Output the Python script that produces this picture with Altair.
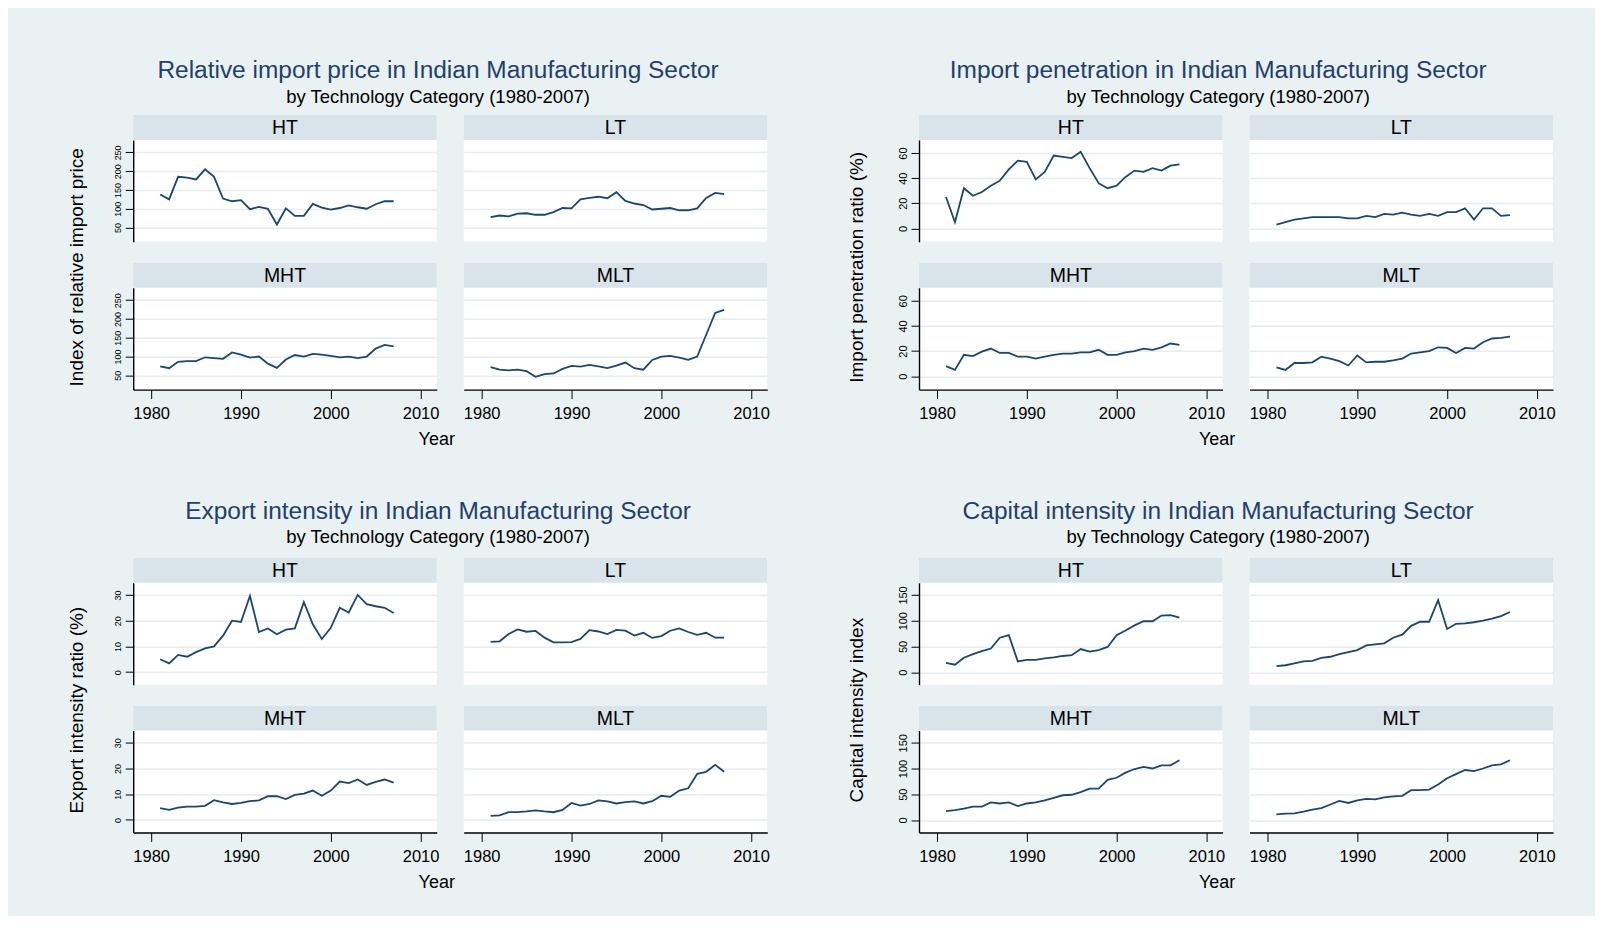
import altair as alt
import pandas as pd

YEARS = list(range(1981, 2008))
CATEGORIES = ["HT", "LT", "MHT", "MLT"]

# Relative import price index
REL_PRICE_HT = [138, 125, 185, 183, 178, 205, 185, 127, 120, 123, 99, 105, 100, 58, 101, 81, 81, 113, 103, 98, 102, 109, 104, 100, 112, 120, 120]
REL_PRICE_LT = [78, 82, 80, 87, 88, 84, 84, 91, 102, 101, 125, 129, 132, 128, 144, 121, 114, 110, 98, 100, 102, 96, 96, 101, 129, 142, 139]
REL_PRICE_MHT = [74, 69, 86, 88, 88, 98, 96, 94, 111, 105, 97, 100, 81, 70, 92, 104, 100, 107, 105, 102, 98, 100, 96, 100, 121, 131, 127]
REL_PRICE_MLT = [72, 65, 63, 65, 61, 46, 53, 55, 67, 75, 73, 78, 74, 69, 76, 84, 69, 65, 91, 100, 102, 97, 91, 100, 158, 216, 224]

# Import penetration ratio (%)
IMP_PEN_HT = [25, 5, 32, 26, 29, 34, 38, 47, 54, 53, 39, 45, 58, 57, 56, 61, 48, 36, 32, 34, 41, 46, 45, 48, 46, 50, 51]
IMP_PEN_LT = [3, 5, 7, 8, 9, 9, 9, 9, 8, 8, 10, 9, 11.5, 11, 12.5, 11, 10, 11.5, 10, 13, 13, 16, 7, 16, 16, 10, 10.5]
IMP_PEN_MHT = [8, 5, 17, 16, 19.5, 22, 18.5, 18.5, 15.5, 15.5, 14, 15.5, 17, 18, 18, 19, 19, 21, 17, 17, 19, 20, 22, 21, 23, 26, 25]
IMP_PEN_MLT = [7, 5, 10.5, 10.5, 11, 15.5, 14, 12, 8.5, 16.5, 11, 11.5, 11.5, 12.5, 14, 18, 19, 20, 23, 22.5, 18.5, 22.5, 22, 27, 30, 30.5, 31.5]

# Export intensity ratio (%)
EXP_INT_HT = [5, 3.4, 6.7, 6, 7.8, 9.2, 10, 14.2, 20, 19.5, 29.6, 15.6, 17, 14.7, 16.5, 17, 27.2, 18.6, 12.9, 17.2, 25, 23.2, 30, 26.4, 25.6, 25, 23]
EXP_INT_LT = [11.8, 12, 14.8, 16.6, 15.7, 16, 13.4, 11.6, 11.6, 11.7, 12.9, 16.3, 15.8, 14.8, 16.4, 16.1, 14.2, 15.3, 13.3, 14, 16.1, 17, 15.6, 14.5, 15.3, 13.4, 13.4]
EXP_INT_MHT = [4.6, 3.9, 4.8, 5.2, 5.2, 5.5, 7.7, 6.8, 6.2, 6.6, 7.3, 7.6, 9.2, 9.2, 8.1, 9.7, 10.2, 11.4, 9.4, 11.4, 14.9, 14.3, 15.7, 13.6, 14.8, 15.7, 14.5]
EXP_INT_MLT = [1.6, 1.8, 3, 3, 3.3, 3.7, 3.3, 3, 3.9, 6.6, 5.6, 6.2, 7.6, 7.2, 6.4, 6.9, 7.2, 6.4, 7.3, 9.4, 9, 11.4, 12.3, 17.9, 18.7, 21.4, 18.7]

# Capital intensity index
CAP_INT_HT = [18, 14.5, 28, 35, 41, 46, 67, 72, 21, 24, 24, 27, 29, 31.5, 33, 45, 40, 43, 49, 72, 81, 91, 99, 99, 110, 111, 106]
CAP_INT_LT = [12, 13.5, 17, 21, 22, 28, 30, 35, 39, 43, 52, 54, 56, 67, 73, 90, 98, 98, 140, 84, 94, 95, 97, 100, 104, 109, 117]
CAP_INT_MHT = [17, 19, 22, 26, 26, 34, 32, 34, 27, 32, 34, 38, 43, 48, 49, 54, 61, 61, 78, 82, 92, 99, 103, 100, 106, 106, 116]
CAP_INT_MLT = [11, 12.5, 13, 16, 20, 23, 30, 37, 33, 38, 41, 40, 44, 46, 47, 58, 58, 59, 69, 81, 89, 97, 95, 100, 106, 108, 116]

TITLES = [
    "Relative import price in Indian Manufacturing Sector",
    "Import penetration in Indian Manufacturing Sector",
    "Export intensity in Indian Manufacturing Sector",
    "Capital intensity in Indian Manufacturing Sector",
]
SUBTITLE = "by Technology Category (1980-2007)"
Y_TITLES = [
    "Index of relative import price",
    "Import penetration ratio (%)",
    "Export intensity ratio (%)",
    "Capital intensity index",
]
X_TITLE = "Year"
YEAR_TICKS = [1980, 1990, 2000, 2010]
Y_TICKS = [
    [50, 100, 150, 200, 250],
    [0, 20, 40, 60],
    [0, 10, 20, 30],
    [0, 50, 100, 150],
]
Y_DOMAINS = [[12, 283], [-10.7, 70.4], [-4.85, 34.7], [-24.2, 173.6]]
YEAR_DOMAIN = [1978, 2011.8]

SERIES = [
    {"HT": REL_PRICE_HT, "LT": REL_PRICE_LT, "MHT": REL_PRICE_MHT, "MLT": REL_PRICE_MLT},
    {"HT": IMP_PEN_HT, "LT": IMP_PEN_LT, "MHT": IMP_PEN_MHT, "MLT": IMP_PEN_MLT},
    {"HT": EXP_INT_HT, "LT": EXP_INT_LT, "MHT": EXP_INT_MHT, "MLT": EXP_INT_MLT},
    {"HT": CAP_INT_HT, "LT": CAP_INT_LT, "MHT": CAP_INT_MHT, "MLT": CAP_INT_MLT},
]

# styling / layout
FONT = "Liberation Sans"
NAVY = "#1A476F"
TITLE_NAVY = "#243F6B"
BG = "#E9F1F3"
STRIP = "#D8E4EA"
GRID = "#E5EDF0"
W, H, S = 304, 102, 25
ROW_GAP, COL_GAP = 21, 27
Y_LABEL_SIZE = [9, 11, 9, 11]
Y_TITLE_X = [-57, -63, -57, -63]
TITLE_DX = [153.3, 147.6, 153.3, 147.6]
TITLE_OFFSET = [8, 8, 10, 10]
X_TITLE_X = [303.5, 298, 303.5, 298]


def make_panel(gi, cat, col, row):
    data = pd.DataFrame({"Year": YEARS, "value": SERIES[gi][cat]})
    label = pd.DataFrame({"label": [cat]})

    if col == 0:
        ykw = dict(
            values=Y_TICKS[gi], labelAngle=270, labelAlign="center", labelBaseline="bottom",
            labelFontSize=Y_LABEL_SIZE[gi], labelFont=FONT, labelColor="#000000", labelPadding=3,
            tickSize=8, tickColor="#000000", tickWidth=1, domainColor="#000000", domainWidth=1.4,
            grid=True, gridColor=GRID, gridWidth=1.5, labelOverlap=False,
        )
        if row == 0:
            ykw.update(title=Y_TITLES[gi], titleX=Y_TITLE_X[gi], titleY=152, titleAngle=270,
                       titleAlign="center", titleBaseline="middle", titleFont=FONT,
                       titleFontSize=19, titleFontWeight="normal", titleColor="#000000")
        else:
            ykw.update(title=None)
        yaxis = alt.Axis(**ykw)
    else:
        yaxis = alt.Axis(values=Y_TICKS[gi], labels=False, ticks=False, domain=False,
                         grid=True, gridColor=GRID, gridWidth=1.5, title=None)

    if row == 1:
        xkw = dict(
            values=YEAR_TICKS, format="d", grid=False, labelFontSize=16.5, labelFont=FONT,
            labelColor="#000000", labelPadding=7, labelFlush=False, labelOverlap=False,
            tickSize=9, tickColor="#000000", tickWidth=1, domainColor="#000000", domainWidth=1.4,
        )
        if col == 0:
            xkw.update(title=X_TITLE, titleX=X_TITLE_X[gi], titleY=50,
                       titleAlign="center", titleBaseline="middle", titleFont=FONT,
                       titleFontSize=18, titleFontWeight="normal", titleColor="#000000")
        else:
            xkw.update(title=None)
        xaxis = alt.Axis(**xkw)
    else:
        xaxis = None

    strip = alt.Chart(label).mark_rect(color=STRIP).encode(
        x=alt.value(0), x2=alt.value(W), y=alt.value(0), y2=alt.value(S)
    )
    strip_text = alt.Chart(label).mark_text(
        font=FONT, fontSize=19.5, color="#000000", align="center", baseline="middle"
    ).encode(x=alt.value(W / 2), y=alt.value(S / 2 + 1), text="label:N")

    x_scale = alt.Scale(domain=YEAR_DOMAIN, nice=False, zero=False)
    if xaxis is None:
        x_enc = alt.X("Year:Q", scale=x_scale, axis=None)
    else:
        x_enc = alt.X("Year:Q", scale=x_scale, axis=xaxis)

    line = alt.Chart(data).mark_line(color=NAVY, strokeWidth=1.8).encode(
        x=x_enc,
        y=alt.Y("value:Q", scale=alt.Scale(domain=Y_DOMAINS[gi], range=[S + H, S], nice=False, zero=False),
                axis=yaxis),
    )
    chart = alt.layer(strip, strip_text, line).properties(width=W, height=S + H)
    if col == 0 and row == 0:
        chart = chart.properties(title=alt.TitleParams(
            text=TITLES[gi], subtitle=SUBTITLE, anchor="middle", frame="group", dx=TITLE_DX[gi],
            offset=TITLE_OFFSET[gi], font=FONT, fontSize=24.5, fontWeight="normal", color=TITLE_NAVY,
            subtitleFont=FONT, subtitleFontSize=18.5, subtitleColor="#000000", subtitlePadding=4,
        ))
    return chart


groups = []
for gi in range(4):
    panels = [make_panel(gi, cat, i % 2, i // 2) for i, cat in enumerate(CATEGORIES)]
    groups.append(alt.concat(*panels, columns=2, spacing={"row": ROW_GAP, "column": COL_GAP}, bounds="flush"))

chart = alt.concat(*groups, columns=2, spacing={"row": 50.5, "column": 77}).properties(
    background=BG,
    padding={"left": 59.4, "top": 49.5, "right": 39, "bottom": 23},
).configure(font=FONT).configure_view(fill="white", stroke=None)

chart.save("out.html", embed_options={"renderer": "svg", "actions": False})
